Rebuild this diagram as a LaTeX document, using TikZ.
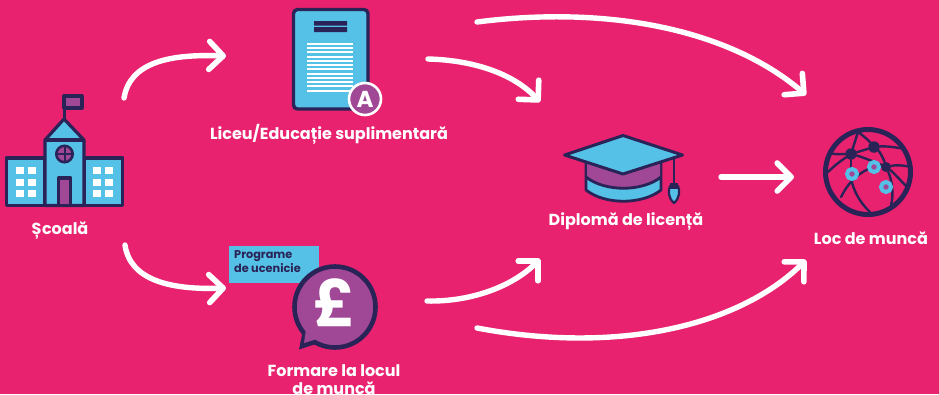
\documentclass[tikz,border=0pt]{standalone}
\usepackage{fontspec}
\setmainfont{Poppins}[BoldFont={Poppins Bold}]
\usetikzlibrary{arrows.meta}
\definecolor{bgpink}{HTML}{E9226F}
\definecolor{navy}{HTML}{2A2357}
\definecolor{skyb}{HTML}{55C1E6}
\definecolor{purp}{HTML}{A04796}
\tikzset{
  flow/.style={draw=white,line width=5.4pt,line cap=round,line join=round,
    -{Straight Barb[length=14pt,width=28pt,line width=5.6pt,round]}},
  lab/.style={text=white,font=\bfseries\fontsize{16}{18}\selectfont,align=center,inner sep=0pt},
  ink/.style={draw=navy,line width=3.2pt,line join=round},
  thin/.style={draw=navy,line width=2.4pt,line cap=round},
  hub/.style={circle,fill=navy,inner sep=0pt,minimum size=11.5pt},
  ring/.style={circle,draw=skyb,fill=purp,line width=4pt,inner sep=0pt,minimum size=10pt},
}
\begin{document}
\begin{tikzpicture}[x=1pt,y=-1pt]
\useasboundingbox (0,0) rectangle (939,394);
\fill[bgpink] (0,0) rectangle (939,394);
% School
\draw[navy,line width=3pt] (64,120) -- (64,96);
\draw[ink,fill=purp] (64,96) rectangle (82,108);
\draw[ink,fill=skyb] (6.5,158) rectangle (45,205.5);
\draw[ink,fill=skyb] (84,158) rectangle (122.5,205.5);
\draw[ink,fill=skyb] (45,205.5) -- (45,140) -- (64,119) -- (84,140) -- (84,205.5) -- cycle;
\draw[ink] (45,140) -- (84,140);
\draw[navy,line width=2.6pt,fill=purp] (64.5,154) circle (8.2);
\draw[navy,line width=2pt] (64.5,147) -- (64.5,161) (57.5,154) -- (71.5,154);
\draw[ink,fill=purp] (58.5,178) rectangle (70.5,205.5);
\foreach \cx in {16,28,93,105}\foreach \cy in {167,179,190}
  \fill[white] (\cx,\cy) rectangle ++(8,7);
\node[lab] (school) at (60,231) {Școală};
% Document
\draw[navy,line width=3.4pt,fill=skyb,rounded corners=4pt] (293.5,9.5) rectangle (368,109);
\fill[navy] (314,21) rectangle (347,25.5) (314,27) rectangle (347,32);
\foreach \ly in {43,47,51,56,60,64,68,73,77,81,85,90}
  \fill[white] (307,\ly) rectangle (353,\ly+2.2);
\node[circle,draw=white,fill=purp,line width=2.6pt,minimum size=32pt,inner sep=0pt,text=white,font=\bfseries\fontsize{23}{23}\selectfont] (badge) at (365,99) {A};
\node[lab] (liceu) at (329,134.5) {Liceu/Educație suplimentară};
% Apprenticeship
\node[fill=skyb,minimum width=90pt,minimum height=37pt,inner sep=0pt] (progbox) at (274,264.5) {};
\node[anchor=north west,inner sep=0pt,align=left,text=navy,font=\bfseries\fontsize{11.3}{14}\selectfont] (progtext) at (234,250.5) {Programe\\de ucenicie};
\fill[navy] (299,349.5) -- (304,325) -- (322,342) -- cycle;
\node[circle,draw=navy,fill=purp,line width=4.6pt,minimum size=81pt,inner sep=0pt] (bubble) at (335,307) {};
\fill[purp] (304,343) -- (306.5,326) -- (320,338) -- cycle;
\node[text=white,inner sep=0pt,font=\bfseries\fontsize{64}{64}\selectfont] (pound) at (335,303) {£};
\node[lab] (formare) at (334,380) {Formare la locul\\de muncă};
% Cap
\draw[ink,fill=skyb,line width=2.8pt] (586,160) -- (586,190) .. controls (605,205) and (642,205) .. (661,190) -- (661,160) -- cycle;
\path[fill=purp] (587,164) -- (587,178) .. controls (605,192) and (642,192) .. (660,178) -- (660,164) -- cycle;
\draw[navy,line width=2.8pt] (586,177) .. controls (605,192) and (642,192) .. (661,177);
\draw[ink,fill=skyb,line width=3pt] (623,135.5) -- (564.5,155) -- (623,174) -- (682.5,155) -- cycle;
\draw[navy,line width=2.4pt] (674,156) -- (674,186);
\draw[navy,line width=2.2pt,fill=skyb,line join=round] (674,203) .. controls (668,198) and (668,190) .. (670,186) -- (678,186) .. controls (680,190) and (680,198) .. (674,203) -- cycle;
\fill[navy] (670,183) rectangle (678,189);
\node[lab] (degree) at (626,221.5) {Diplomă de licență};
% Globe
\node[circle,draw=navy,line width=5pt,minimum size=85pt,inner sep=0pt] (globe) at (868,172) {};
\node[hub] (h1) at (851,154) {};
\node[hub] (h2) at (874,147) {};
\node[hub,minimum size=10pt] (h3) at (886,167) {};
\coordinate (g1) at (858,132);
\coordinate (g2) at (830,153);
\coordinate (g3) at (905,149);
\coordinate (g4) at (911,167);
\coordinate (g5) at (907,187);
\coordinate (g6) at (891,205);
\coordinate (g7) at (841,197);
\coordinate (g8) at (870,212);
\coordinate (g9) at (828,172);
\draw[thin] (h1) -- (g1) (g1) .. controls (865,137) and (870,142) .. (h2);
\draw[thin] (h1) .. controls (843,154) and (836,155) .. (g2);
\draw[thin] (h1) .. controls (842,160) and (835,165) .. (g9);
\draw[thin] (h1) -- (h2) (h2) .. controls (885,146) and (895,147) .. (g3);
\draw[thin] (h1) .. controls (862,157) and (875,162) .. (h3);
\draw[thin] (h2) .. controls (880,152) and (884,160) .. (h3);
\draw[thin] (h3) .. controls (895,165) and (903,165) .. (g4);
\draw[thin] (h3) .. controls (893,172) and (902,182) .. (g5);
\draw[thin] (h3) .. controls (892,180) and (894,195) .. (g6);
\draw[thin] (h1) -- (851,174);
\draw[thin] (874,167) .. controls (858,172) and (848,183) .. (g7);
\draw[thin] (851,178) .. controls (853,190) and (860,203) .. (g8);
\node[ring] (r1) at (852,174) {};
\node[ring] (r2) at (874,167) {};
\node[ring] (r3) at (886,187) {};
\node[lab] (job) at (871,238) {Loc de muncă};
% Connector ends
\coordinate (a1s) at (124,98);  \coordinate (a1e) at (226,56);
\coordinate (a2s) at (125,245); \coordinate (a2e) at (226,288);
\coordinate (a3s) at (428,59);  \coordinate (a3e) at (540,102);
\coordinate (a4s) at (477,22);  \coordinate (a4e) at (806,95);
\coordinate (a5s) at (427,301); \coordinate (a5e) at (540,259);
\coordinate (a6s) at (477,328); \coordinate (a6e) at (806,260);
\coordinate (a7s) at (721,177); \coordinate (a7e) at (794,177);
\draw[flow] (a1s) .. controls (130,62) and (170,54) .. (a1e);
\draw[flow] (a2s) .. controls (130,280) and (170,290) .. (a2e);
\draw[flow] (a3s) .. controls (470,60) and (512,72) .. (a3e);
\draw[flow] (a4s) .. controls (610,5) and (730,30) .. (a4e);
\draw[flow] (a5s) .. controls (470,302) and (512,287) .. (a5e);
\draw[flow] (a6s) .. controls (620,355) and (740,325) .. (a6e);
\draw[flow] (a7s) -- (a7e);
\end{tikzpicture}
\end{document}
